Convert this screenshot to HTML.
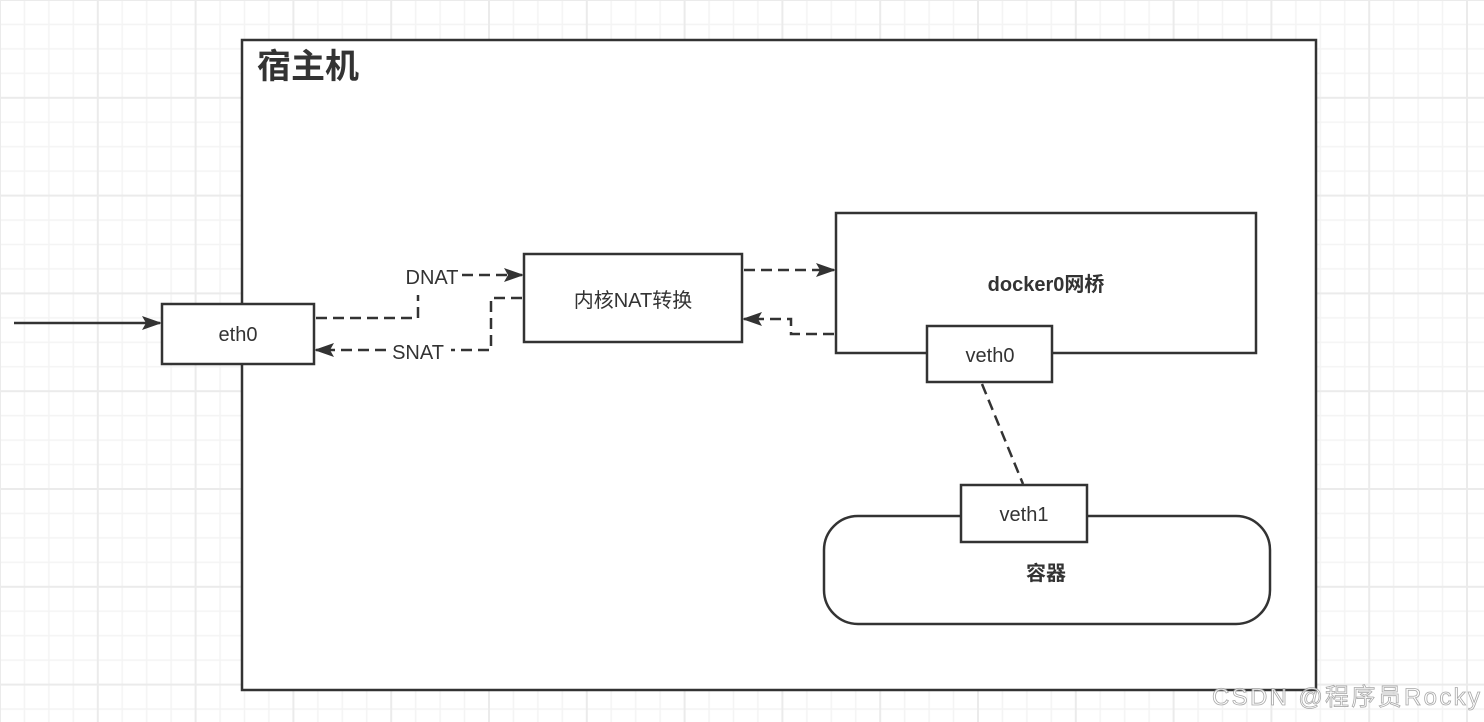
<!DOCTYPE html>
<html><head><meta charset="utf-8"><style>
html,body{margin:0;padding:0;background:#fff;}
svg{display:block;}
text{font-family:"Liberation Sans","Noto Sans CJK SC",sans-serif;fill:#333;}
</style></head><body>
<svg width="1484" height="722" xmlns="http://www.w3.org/2000/svg">
<defs>
<pattern id="g" width="97.8" height="97.8" patternUnits="userSpaceOnUse" x="-1" y="-1">
<path d="M25.45 0V97.8M49.9 0V97.8M74.35 0V97.8M0 25.45H97.8M0 49.9H97.8M0 74.35H97.8" stroke="#f4f4f4" stroke-width="1.5" fill="none"/>
<path d="M1 0V97.8M0 1H97.8" stroke="#ebebeb" stroke-width="2" fill="none"/>
</pattern>
<marker id="b" markerWidth="20" markerHeight="14" refX="18" refY="7" orient="auto" markerUnits="userSpaceOnUse" viewBox="0 0 20 14">
<path d="M0 0L20 7L0 14L4 7Z" fill="#333"/>
</marker>
</defs>
<rect width="1484" height="722" fill="url(#g)"/>
<g stroke="#333" stroke-width="2.5" fill="#fff">
<rect x="242" y="40" width="1074" height="650"/>
<rect x="162" y="304" width="152" height="60"/>
<rect x="524" y="254" width="218" height="88"/>
<rect x="836" y="213" width="420" height="140"/>
<rect x="927" y="326" width="125" height="56"/>
<rect x="824" y="516" width="446" height="108" rx="34"/>
<rect x="961" y="485" width="126" height="57"/>
</g>
<text x="257" y="78" font-size="34" font-weight="bold">宿主机</text>
<text x="238" y="341" font-size="20" text-anchor="middle">eth0</text>
<text x="633" y="307" font-size="20" text-anchor="middle">内核NAT转换</text>
<text x="1046" y="291" font-size="20" font-weight="bold" text-anchor="middle">docker0网桥</text>
<text x="990" y="362" font-size="20" text-anchor="middle">veth0</text>
<text x="1024" y="521" font-size="20" text-anchor="middle">veth1</text>
<text x="1046" y="580" font-size="20" font-weight="bold" text-anchor="middle">容器</text>
<g stroke="#333" stroke-width="2.5" fill="none">
<line x1="14" y1="323" x2="160" y2="323" marker-end="url(#b)"/>
<g stroke-dasharray="11,6">
<path d="M316 318H418V295"/>
<path d="M462 275H522" marker-end="url(#b)"/>
<path d="M522 298H491V350H451"/>
<path d="M386 350H316" marker-end="url(#b)"/>
<path d="M744 270H834" marker-end="url(#b)"/>
<path d="M834 334H791V319H744" marker-end="url(#b)"/>
<path d="M982 384L1023 484"/>
</g>
</g>
<text x="432" y="284" font-size="20" text-anchor="middle">DNAT</text>
<text x="418" y="359" font-size="20" text-anchor="middle">SNAT</text>
<text x="1480" y="705" font-size="24" text-anchor="end" textLength="268" style="fill:#fff;stroke:#999;stroke-width:0.8;opacity:0.85">CSDN @程序员Rocky</text>
</svg>
</body></html>
